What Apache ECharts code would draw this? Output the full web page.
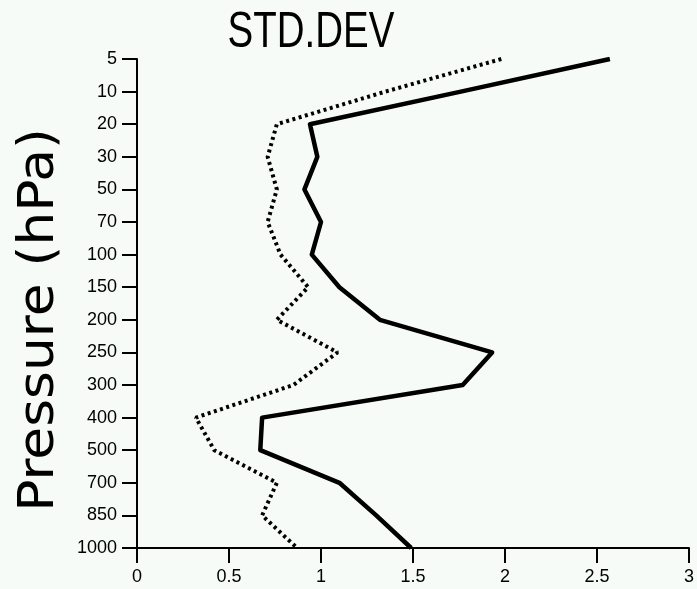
<!DOCTYPE html>
<html>
<head>
<meta charset="utf-8">
<script src="https://cdn.jsdelivr.net/npm/echarts@6/dist/echarts.min.js"></script>
<style>
  html, body { margin: 0; padding: 0; background: #f6fbf8; }
  #chart { width: 697px; height: 589px; }
</style>
</head>
<body>
<div id="chart"></div>
<script>
// Pressure levels, top of the profile first
const levels = ['5', '10', '20', '30', '50', '70', '100', '150', '200', '250', '300', '400', '500', '700', '850', '1000'];
// Standard deviation at each level
const stdSolid  = [2.57, 1.76, 0.94, 0.98, 0.91, 1.00, 0.95, 1.10, 1.32, 1.93, 1.77, 0.68, 0.67, 1.10, 1.30, 1.49];
const stdDotted = [1.98, 1.35, 0.76, 0.71, 0.76, 0.71, 0.78, 0.93, 0.76, 1.09, 0.85, 0.32, 0.42, 0.76, 0.68, 0.87];
const xTicks = [0, 0.5, 1, 1.5, 2, 2.5, 3];
const titleText = 'STD.DEV';
const yTitleText = 'Pressure (hPa)';

const pairs = vals => vals.map((v, i) => [v, levels[i]]);
const labelFont = '"Liberation Sans", Arial, sans-serif';

const chart = echarts.init(document.getElementById('chart'), null, { renderer: 'canvas' });
chart.setOption({
  backgroundColor: '#f6fbf8',
  animation: false,
  graphic: [
    {
      // condensed-looking heading: regular face squeezed horizontally
      type: 'text',
      x: 311,
      y: 58,
      scaleX: 0.77,
      style: {
        text: titleText,
        font: '50px "Liberation Sans", Arial, sans-serif',
        fill: '#000',
        textAlign: 'center',
        textVerticalAlign: 'bottom'
      }
    },
    {
      // vertical axis title, stretched a little along its length
      type: 'text',
      x: 40,
      y: 320,
      rotation: Math.PI / 2,
      scaleX: 1.07,
      style: {
        text: yTitleText,
        font: '50px "DejaVu Sans", sans-serif',
        fill: '#000',
        textAlign: 'center',
        textVerticalAlign: 'middle'
      }
    }
  ],
  grid: { left: 137, right: 8, top: 59, bottom: 41, outerBoundsMode: 'none', containLabel: false },
  xAxis: {
    type: 'value',
    min: 0,
    max: 3,
    interval: 0.5,
    splitLine: { show: false },
    axisLine: { show: true, onZero: false, lineStyle: { color: '#000', width: 2 } },
    axisTick: { show: true, length: 15, lineStyle: { color: '#000', width: 2 } },
    axisLabel: {
      margin: 20,
      color: '#000',
      fontFamily: labelFont,
      fontSize: 18,
      formatter: v => (xTicks.includes(v) ? String(v) : '')
    }
  },
  yAxis: {
    type: 'category',
    data: levels,
    inverse: true,
    boundaryGap: false,
    axisLine: { show: true, lineStyle: { color: '#000', width: 2 } },
    axisTick: { show: true, length: 15, alignWithLabel: true, lineStyle: { color: '#000', width: 2 } },
    axisLabel: {
      margin: 20,
      color: '#000',
      fontFamily: labelFont,
      fontSize: 18
    },
    splitLine: { show: false }
  },
  series: [
    {
      name: 'solid',
      type: 'line',
      data: pairs(stdSolid),
      symbol: 'none',
      lineStyle: { color: '#000', width: 4.5, type: 'solid', join: 'round' }
    },
    {
      name: 'dotted',
      type: 'line',
      data: pairs(stdDotted),
      symbol: 'none',
      lineStyle: { color: '#000', width: 4, type: [3, 3.5] }
    }
  ]
});
</script>
</body>
</html>
